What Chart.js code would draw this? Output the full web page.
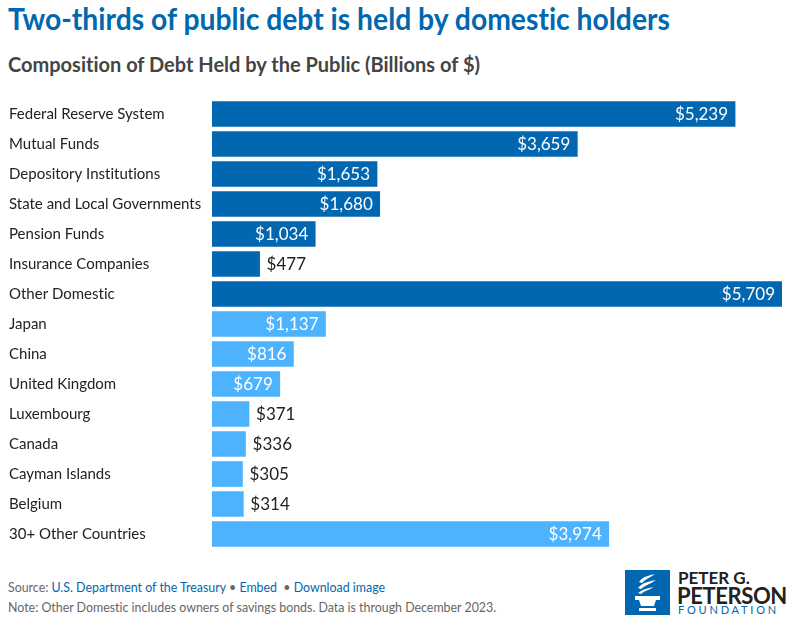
<!DOCTYPE html>
<html>
<head>
<meta charset="utf-8">
<script src="https://cdn.jsdelivr.net/npm/chart.js@4.4.1/dist/chart.umd.min.js"></script>
<style>
  body { margin: 0; width: 798px; height: 630px; background: #fff; font-family: Lato, sans-serif; position: relative; overflow: hidden; font-variant-ligatures: none; }
  #title { position: absolute; left: 8px; top: 0px; font-size: 30px; font-weight: bold; color: #0067b0; white-space: nowrap; transform-origin: 0 0; transform: scaleX(0.943); }
  #subtitle { position: absolute; left: 8px; top: 52px; font-size: 20px; font-weight: bold; color: #444; white-space: nowrap; }
  #wrap { position: absolute; left: 0; top: 90px; width: 798px; height: 468px; }
  #foot1 { position: absolute; left: 8px; top: 580px; font-size: 12.4px; color: #666; white-space: nowrap; }
  #foot1 a { color: #0067b0; text-decoration: none; }
  #foot2 { position: absolute; left: 8px; top: 600px; font-size: 12.4px; color: #666; white-space: nowrap; }
  #logo { position: absolute; left: 625px; top: 570px; width: 45px; height: 45px; background: #0067b0; }
  #l1 { position: absolute; left: 678px; top: 567px; font-size: 17px; font-weight: bold; color: #222; white-space: nowrap; }
  #l2 { position: absolute; left: 677px; top: 582px; font-size: 22px; font-weight: bold; color: #222; white-space: nowrap; letter-spacing: -0.4px; }
  #l3 { position: absolute; left: 678px; top: 603px; font-size: 11px; color: #0067b0; white-space: nowrap; letter-spacing: 2.8px; }
</style>
</head>
<body>
<div id="title">Two-thirds of public debt is held by domestic holders</div>
<div id="subtitle">Composition of Debt Held by the Public (Billions of $)</div>
<div id="wrap"><canvas id="chart"></canvas></div>
<div id="foot1">Source: <a>U.S. Department of the Treasury</a> &bull; <a>Embed</a> &nbsp;&bull; <a>Download image</a></div>
<div id="foot2">Note: Other Domestic includes owners of savings bonds. Data is through December 2023.</div>
<div id="logo">
  <svg width="45" height="45" viewBox="0 0 45 45">
    <path d="M14 12 C18 6 26 5 30 4 C25 8 20 9 17 13 Z" fill="#fff"/>
    <path d="M13 18 C18 12 26 11 31 10 C26 14 20 15 16 19 Z" fill="#fff"/>
    <path d="M13 23 C18 19 24 18 29 17 C24 20 19 21 16 24 Z" fill="#fff"/>
    <path d="M10 26 L35 26 L35 30 L31 30 L29 36 L16 36 L14 30 L10 30 Z" fill="#fff"/>
    <rect x="14" y="38" width="17" height="3" fill="#fff"/>
  </svg>
</div>
<div id="l1">PETER G.</div>
<div id="l2">PETERSON</div>
<div id="l3">FOUNDATION</div>
<script>
const categorias = ["Federal Reserve System", "Mutual Funds", "Depository Institutions", "State and Local Governments",
  "Pension Funds", "Insurance Companies", "Other Domestic", "Japan", "China", "United Kingdom",
  "Luxembourg", "Canada", "Cayman Islands", "Belgium", "30+ Other Countries"];
const valores = [5239, 3659, 1653, 1680, 1034, 477, 5709, 1137, 816, 679, 371, 336, 305, 314, 3974];
const esDomestico = [true, true, true, true, true, true, true, false, false, false, false, false, false, false, false];

const azulOscuro = '#0067b0';
const azulClaro = '#4db3ff';

/* etiquetas de valor */
const etiquetas = {
  id: 'etiquetas',
  afterDatasetsDraw(chart) {
    const ctx = chart.ctx;
    const meta = chart.getDatasetMeta(0);
    ctx.save();
    ctx.font = '17px Lato';
    ctx.textBaseline = 'middle';
    meta.data.forEach((bar, i) => {
      const v = valores[i];
      const txt = '$' + v.toLocaleString('en-US');
      if (v >= 600) {
        ctx.fillStyle = '#fff';
        ctx.textAlign = 'right';
        ctx.fillText(txt, bar.x - 7, bar.y + 1);
      } else {
        ctx.fillStyle = '#222';
        ctx.textAlign = 'left';
        ctx.fillText(txt, bar.x + 7, bar.y + 1);
      }
    });
    ctx.restore();
  }
};

const data = {
  labels: categorias,
  datasets: [{
    data: valores,
    backgroundColor: esDomestico.map(d => d ? azulOscuro : azulClaro),
    barThickness: 25,
    borderWidth: 0
  }]
};

const config = {
  type: 'bar',
  data: data,
  options: {
    indexAxis: 'y',
    responsive: true,
    maintainAspectRatio: false,
    animation: false,
    layout: { padding: { left: 9, right: 16, top: 0, bottom: 0 } },
    plugins: { legend: { display: false }, tooltip: { enabled: false } },
    scales: {
      x: { display: false, min: 0, max: 5709 },
      y: {
        grid: { display: false },
        border: { display: false },
        ticks: { crossAlign: 'far', color: '#222', font: { family: 'Lato', size: 15 }, padding: 0 },
        afterFit(scale) { scale.width = 203; }
      }
    }
  },
  plugins: [etiquetas]
};

const canvas = document.getElementById("chart").getContext("2d");
let chart = new Chart(canvas, config);
</script>
</body>
</html>
